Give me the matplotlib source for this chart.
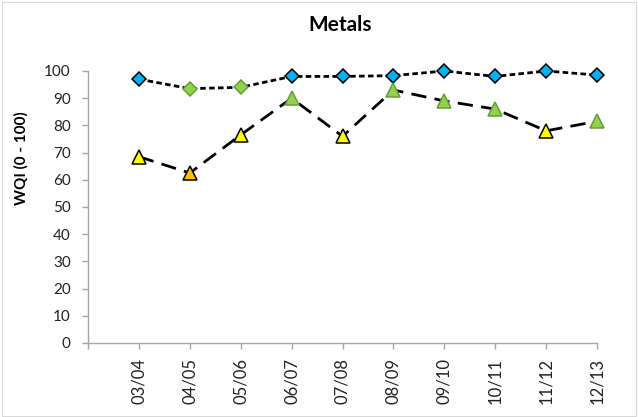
import matplotlib
matplotlib.use("Agg")
import matplotlib.pyplot as plt

categories = ["03/04", "04/05", "05/06", "06/07", "07/08", "08/09", "09/10", "10/11", "11/12", "12/13"]
site_a = [97, 93.5, 94, 98, 98, 98.3, 100, 98, 100, 98.5]
site_a_rating = ["excellent", "good", "good", "excellent", "excellent", "excellent",
                 "excellent", "excellent", "excellent", "excellent"]
site_b = [68.5, 62.5, 76.5, 90, 76, 93, 89, 86, 78, 81.5]
site_b_rating = ["fair", "marginal", "fair", "good", "fair", "good", "good", "good", "fair", "good"]
y_ticks = list(range(0, 101, 10))

fill = {"excellent": "#00B0F0", "good": "#92D050", "fair": "#FFFF00", "marginal": "#FFC000"}
edge = {"excellent": "black", "good": "#6A9A3A", "fair": "black", "marginal": "black"}

plt.rcParams["font.family"] = ["Lato", "DejaVu Sans"]

fig = plt.figure(figsize=(6.38, 4.17), dpi=100)
ax = fig.add_axes([88/638, 1-343/417, (597-88)/638, (343-71)/417])

x = list(range(1, len(categories) + 1))

ax.plot(x, site_a, color="black", lw=2.0, ls=(0, (2.0, 1.2)), zorder=2, clip_on=False)
ax.plot(x, site_b, color="black", lw=2.0, ls=(0, (5.5, 3.0)), zorder=2, clip_on=False)

for xi, v, r in zip(x, site_a, site_a_rating):
    ax.plot(xi, v, marker="D", ms=7.6, mfc=fill[r], mec=edge[r], mew=1.1, zorder=3, clip_on=False)
for xi, v, r in zip(x, site_b, site_b_rating):
    ax.plot(xi, v, marker="^", ms=9.5, mfc=fill[r], mec=edge[r], mew=1.1, zorder=3, clip_on=False)

ax.set_xlim(0, 10)
ax.set_ylim(0, 100)
ax.set_xticks(range(0, 11))
ax.set_xticklabels([""] + categories, rotation=90, fontsize=12, color="#222222")
ax.set_yticks(y_ticks)
ax.set_yticklabels([str(t) for t in y_ticks], fontsize=11, color="#222222")

for s in ["top", "right"]:
    ax.spines[s].set_visible(False)
for s in ["left", "bottom"]:
    ax.spines[s].set_color("#A6A6A6")
    ax.spines[s].set_linewidth(1.0)
ax.tick_params(axis="both", direction="out", length=4.5, color="#A6A6A6", width=1.0)
ax.tick_params(axis="x", pad=6)
ax.tick_params(axis="y", pad=8)

fig.text(21/638, 1-158/417, "WQI (0 - 100)", rotation=90, ha="center", va="center",
         fontsize=11, fontweight="bold")
fig.text(340/638, 1-25/417, "Metals", ha="center", va="center", fontsize=15, fontweight="bold")

border = plt.Rectangle((0.003, 0.003), 0.994, 0.992, transform=fig.transFigure,
                       fill=False, ec="#D9D9D9", lw=0.8)
fig.patches.append(border)

fig.savefig("out.png", dpi=100)
